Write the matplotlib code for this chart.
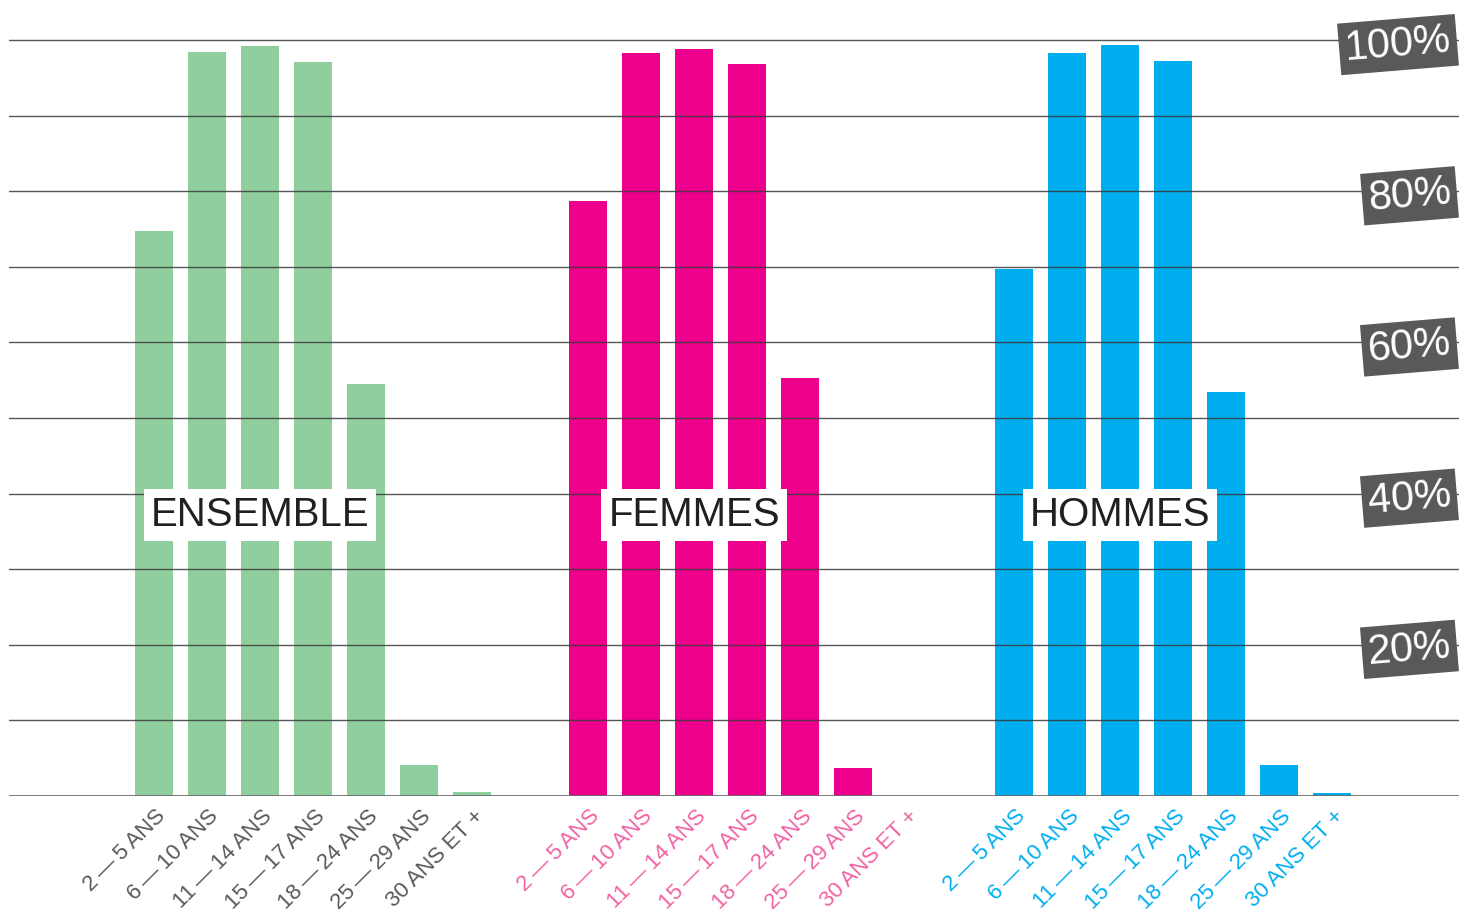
import matplotlib
matplotlib.use("Agg")
import matplotlib.pyplot as plt

# age brackets and share (%) for each group
ages = ["2\u2009—\u20095\u2009ANS", "6\u2009—\u200910\u2009ANS", "11\u2009—\u200914\u2009ANS",
        "15\u2009—\u200917\u2009ANS", "18\u2009—\u200924\u2009ANS", "25\u2009—\u200929\u2009ANS",
        "30\u2009ANS ET +"]
ensemble = [74.7, 98.4, 99.2, 97.1, 54.5, 4.1, 0.5]
femmes = [78.7, 98.3, 98.8, 96.8, 55.3, 3.7, 0.0]
hommes = [69.7, 98.3, 99.3, 97.2, 53.4, 4.1, 0.4]
groups = ["ENSEMBLE", "FEMMES", "HOMMES"]
right_ticks = [20, 40, 60, 80, 100]

plt.rcParams["font.family"] = ["Liberation Sans", "DejaVu Sans"]

fig = plt.figure(figsize=(14.59, 9.15), dpi=100)
ax = fig.add_axes([9 / 1459, 119 / 915, 1450 / 1459, 796 / 915])

series = [ensemble, femmes, hommes]
colors = ["#90ce9e", "#ec008c", "#00aeef"]
label_colors = ["#58595b", "#f062a4", "#00aeef"]
offsets = [0, 8.19, 16.23]
width = 0.717

for vals, col, lcol, off, name in zip(series, colors, label_colors, offsets, groups):
    xs = [off + i for i in range(len(vals))]
    ax.bar(xs, vals, width=width, color=col, zorder=2)
    for x, lab in zip(xs, ages):
        ax.text(x + 0.02, -1.3, lab, rotation=45, rotation_mode="anchor",
                ha="right", va="top", fontsize=16, color=lcol)
    ax.text(off + 2.0, 37.2, name, ha="center", va="center", fontsize=29,
            color="#231f20", zorder=4,
            bbox=dict(boxstyle="square,pad=0.17", fc="white", ec="none"))

# horizontal rules every 10%
for g in range(10, 101, 10):
    ax.axhline(g, color="#3a3a3a", lw=1.0, alpha=0.85, zorder=3)
ax.axhline(0, color="#6d6e70", lw=2.0, zorder=3)

# tilted grey tags, flush with the right edge
for t in right_ticks:
    ax.text(24.5, t - 0.6, f"{t}%", rotation=4.7, ha="right", va="center",
            fontsize=30, color="white", zorder=5,
            bbox=dict(boxstyle="square,pad=0.14", fc="#58595b", ec="none"))

ax.set_xlim(-2.736, 24.62)
ax.set_ylim(0, 105.3)
ax.axis("off")

fig.savefig("out.png", dpi=100)
